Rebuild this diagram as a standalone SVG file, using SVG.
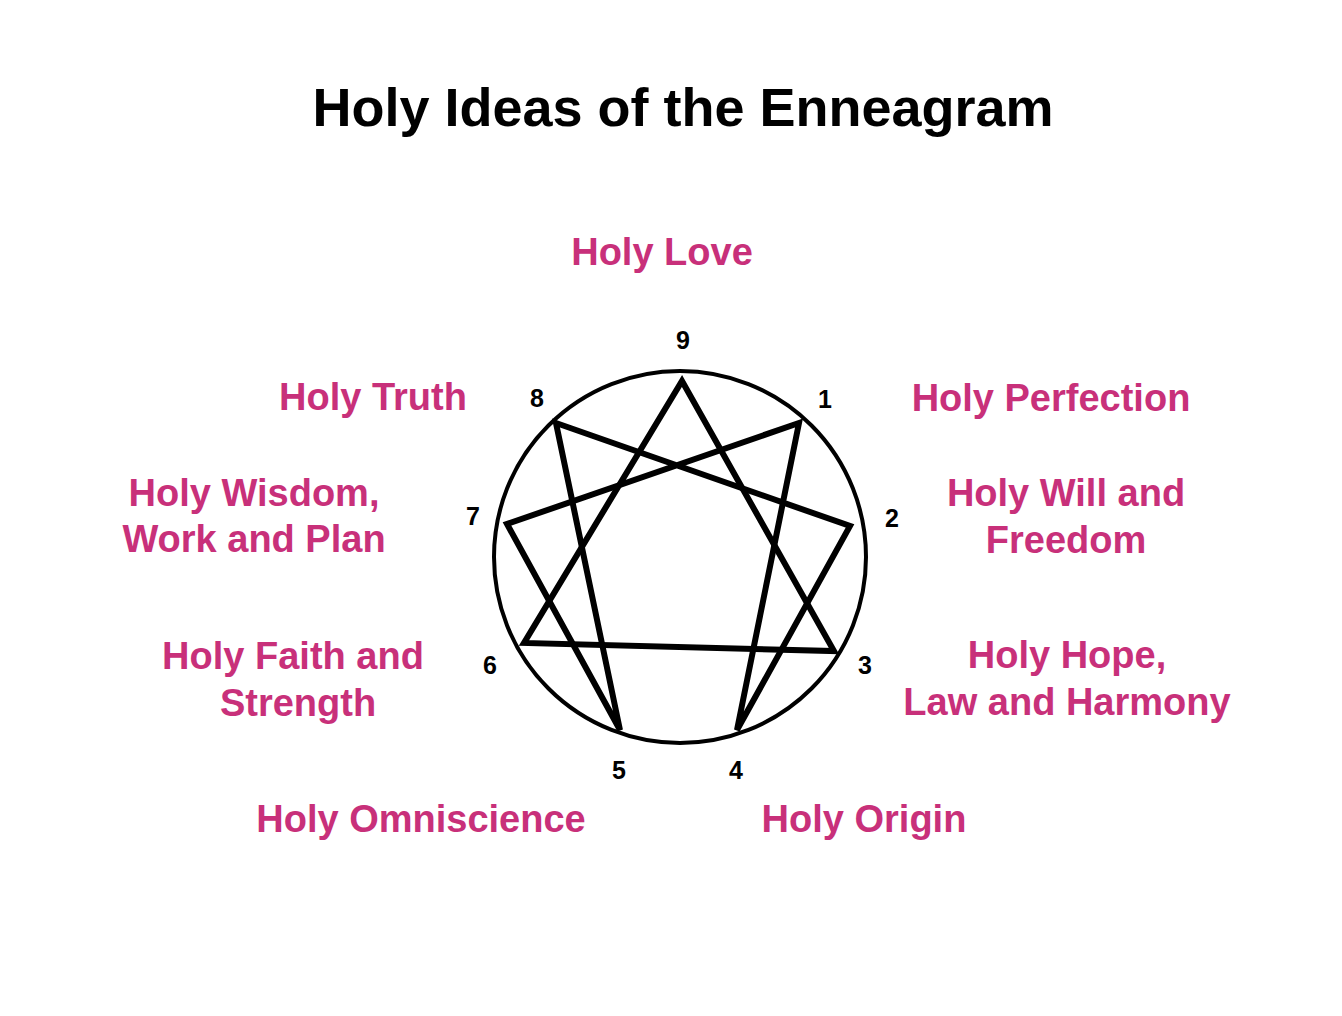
<svg xmlns="http://www.w3.org/2000/svg" width="1342" height="1016" viewBox="0 0 1342 1016">
<style>
  .title { font-family: "Liberation Sans", Arial, sans-serif; font-weight: bold; font-size: 54px; fill: #000; text-anchor: middle; }
  .label { font-family: "Liberation Sans", Arial, sans-serif; font-weight: bold; font-size: 38px; fill: #C8307A; text-anchor: middle; }
  .num { font-family: "Liberation Sans", Arial, sans-serif; font-weight: bold; font-size: 25px; fill: #000; text-anchor: middle; }
  .ring { fill: none; stroke: #000; stroke-width: 4; }
  .edge { fill: none; stroke: #000; stroke-width: 6; stroke-linejoin: miter; stroke-miterlimit: 4; }
</style>
<rect width="1342" height="1016" fill="#fff"/>
<text class="title" x="683" y="126">Holy Ideas of the Enneagram</text>

<g id="circle">
  <circle class="ring" cx="680" cy="557" r="186"/>
</g>

<g id="connectors">
  <polygon class="edge" points="682,381 834,651 524,643"/>
  <polygon class="edge" points="799,423 737,730 850,526 556,423 620,730 507,524"/>
</g>

<g id="node-9"><text class="num" x="683" y="349">9</text><text class="label" x="662" y="265">Holy Love</text></g>
<g id="node-1"><text class="num" x="825" y="408">1</text><text class="label" x="1051" y="411">Holy Perfection</text></g>
<g id="node-2"><text class="num" x="892" y="527">2</text><text class="label" x="1066" y="506"><tspan x="1066">Holy Will and</tspan><tspan x="1066" y="553">Freedom</tspan></text></g>
<g id="node-3"><text class="num" x="865" y="674">3</text><text class="label" x="1067" y="668"><tspan x="1067">Holy Hope,</tspan><tspan x="1067" y="715">Law and Harmony</tspan></text></g>
<g id="node-4"><text class="num" x="736" y="779">4</text><text class="label" x="864" y="832">Holy Origin</text></g>
<g id="node-5"><text class="num" x="619" y="779">5</text><text class="label" x="421" y="832">Holy Omniscience</text></g>
<g id="node-6"><text class="num" x="490" y="674">6</text><text class="label" x="293" y="669"><tspan x="293">Holy Faith and</tspan><tspan x="298" y="716">Strength</tspan></text></g>
<g id="node-7"><text class="num" x="473" y="525">7</text><text class="label" x="254" y="506"><tspan x="254">Holy Wisdom,</tspan><tspan x="254" y="552">Work and Plan</tspan></text></g>
<g id="node-8"><text class="num" x="537" y="407">8</text><text class="label" x="373" y="410">Holy Truth</text></g>
</svg>
